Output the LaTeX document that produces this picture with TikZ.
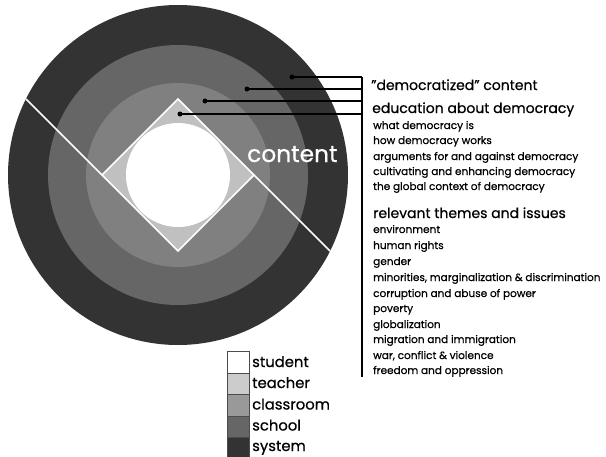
\documentclass[tikz,border=0pt]{standalone}
\usepackage{fontspec}
\setmainfont{Poppins}[FakeBold=0.6]
\definecolor{csystem}{HTML}{333333}
\definecolor{cschool}{HTML}{666666}
\definecolor{cclass}{HTML}{808080}
\definecolor{cteacher}{HTML}{C0C0C0}
\definecolor{lteacher}{HTML}{CCCCCC}
\definecolor{lclass}{HTML}{999999}
\begin{document}
\begin{tikzpicture}[x=1pt,y=-1pt,
  head/.style={anchor=base west, inner sep=0pt, font=\fontsize{14}{14}\selectfont},
  item/.style={anchor=base west, inner sep=0pt, font=\fontsize{10.5}{10.5}\selectfont},
  leg/.style={anchor=base west, inner sep=0pt, font=\fontsize{14.8}{14.8}\selectfont},
  legbox/.style={draw=black!70, line width=0.8pt, minimum width=22pt, minimum height=21.5pt, inner sep=0pt, anchor=north west},
  dot/.style={circle, fill=black, inner sep=0pt, minimum size=5pt},
  wline/.style={white, line width=1.5pt},
  conn/.style={black, line width=1.1pt}]
\useasboundingbox (0,0) rectangle (606,456);
\fill[white] (0,0) rectangle (606,456);
\coordinate (c) at (178,175);
% rings
\fill[csystem] (c) circle[radius=170pt];
\fill[cschool] (c) circle[radius=130pt];
\fill[cclass] (c) circle[radius=92pt];
% diamond
\coordinate (dt) at (178,99);
\coordinate (dr) at (254,175);
\coordinate (db) at (178,251);
\coordinate (dl) at (102,175);
\fill[cteacher] (dt) -- (dr) -- (db) -- (dl) -- cycle;
\fill[white] (c) circle[radius=52pt];
\draw[wline, line join=miter] (dt) -- (dr) -- (db) -- (dl) -- cycle;
\coordinate (ul) at (26,99);
\coordinate (lr) at (330,251);
\draw[wline] (ul) -- (dl);
\draw[wline] (dr) -- (lr);
\node[anchor=base west, inner sep=0pt, text=white, font=\fontsize{23.3}{23.3}\selectfont] (content) at (247,162) {content};
% bracket
\coordinate (vt) at (362,77);
\coordinate (vb) at (362,377);
\draw[conn] (vt) -- (vb);
\node[dot] (d1) at (292,77) {};
\node[dot] (d2) at (247,89) {};
\node[dot] (d3) at (205,101) {};
\node[dot] (d4) at (180,114) {};
\coordinate (e2) at (362,89);
\coordinate (e3) at (362,101);
\coordinate (e4) at (362,114);
\draw[conn] (d1.center) -- (vt);
\draw[conn] (d2.center) -- (e2);
\draw[conn] (d3.center) -- (e3);
\draw[conn] (d4.center) -- (e4);
% texts
\node[head] (h1) at (371,90) {\char"22democratized\char"22{} content};
\node[head] (h2) at (372,113) {education about democracy};
\node[item] (a1) at (373,129) {what democracy is};
\node[item] (a2) at (373,144) {how democracy works};
\node[item] (a3) at (373,160) {arguments for and against democracy};
\node[item] (a4) at (373,175) {cultivating and enhancing democracy};
\node[item] (a5) at (373,190) {the global context of democracy};
\node[head] (h3) at (373,218) {relevant themes and issues};
\node[item] (b1) at (373,233) {environment};
\node[item] (b2) at (373,249) {human rights};
\node[item] (b3) at (373,265) {gender};
\node[item] (b4) at (373,281) {minorities, marginalization \& discrimination};
\node[item] (b5) at (373,297) {corruption and abuse of power};
\node[item] (b6) at (373,312) {poverty};
\node[item] (b7) at (373,328) {globalization};
\node[item] (b8) at (373,343) {migration and immigration};
\node[item] (b9) at (373,359) {war, conflict \& violence};
\node[item] (b10) at (373,374) {freedom and oppression};
% legend
\node[legbox, fill=white] (l1) at (227,351) {};
\node[legbox, fill=lteacher] (l2) at (227,372.5) {};
\node[legbox, fill=lclass] (l3) at (227,394) {};
\node[legbox, fill=cschool] (l4) at (227,415.5) {};
\node[legbox, fill=csystem] (l5) at (227,437) {};
\node[leg] (t1) at (252,367) {student};
\node[leg] (t2) at (252,388) {teacher};
\node[leg] (t3) at (252,409.5) {classroom};
\node[leg] (t4) at (252,430.5) {school};
\node[leg] (t5) at (252,451) {system};
\end{tikzpicture}
\end{document}
